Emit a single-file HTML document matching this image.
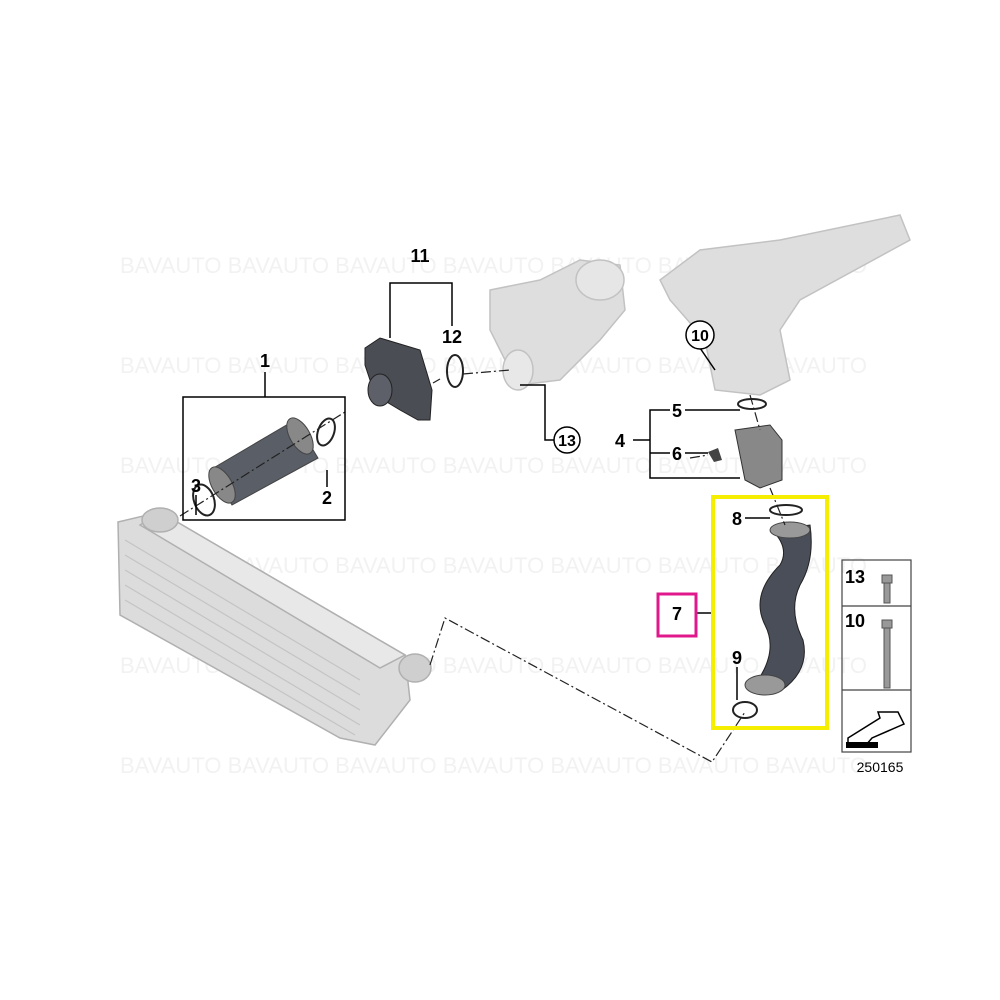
<!DOCTYPE html>
<html><head><style>
html,body{margin:0;padding:0;background:#fff;}
svg{display:block}
text{font-family:"Liberation Sans",sans-serif;}
.b{font-weight:bold;}
</style></head><body>
<svg width="1000" height="1000" viewBox="0 0 1000 1000" xmlns="http://www.w3.org/2000/svg">
<rect width="1000" height="1000" fill="#fff"/>
<!-- watermarks -->
<g fill="#f2f2f2" font-size="22" font-family="Liberation Sans">
<text x="120" y="273">BAVAUTO BAVAUTO BAVAUTO BAVAUTO BAVAUTO BAVAUTO BAVAUTO</text>
<text x="120" y="373">BAVAUTO BAVAUTO BAVAUTO BAVAUTO BAVAUTO BAVAUTO BAVAUTO</text>
<text x="120" y="473">BAVAUTO BAVAUTO BAVAUTO BAVAUTO BAVAUTO BAVAUTO BAVAUTO</text>
<text x="120" y="573">BAVAUTO BAVAUTO BAVAUTO BAVAUTO BAVAUTO BAVAUTO BAVAUTO</text>
<text x="120" y="673">BAVAUTO BAVAUTO BAVAUTO BAVAUTO BAVAUTO BAVAUTO BAVAUTO</text>
<text x="120" y="773">BAVAUTO BAVAUTO BAVAUTO BAVAUTO BAVAUTO BAVAUTO BAVAUTO</text>
</g>
<!-- intercooler -->
<g fill="#dcdcdc" stroke="#b0b0b0" stroke-width="1.5">
<polygon points="118,522 160,512 405,655 410,700 375,745 340,738 120,615"/>
<polygon points="140,525 160,512 405,655 380,668" fill="#e8e8e8"/>
<ellipse cx="160" cy="520" rx="18" ry="12" fill="#cfcfcf"/>
<ellipse cx="415" cy="668" rx="16" ry="14" fill="#cfcfcf"/>
</g>
<g stroke="#c4c4c4" stroke-width="1.2">
<line x1="125" y1="540" x2="360" y2="680"/><line x1="125" y1="555" x2="360" y2="695"/>
<line x1="125" y1="570" x2="360" y2="710"/><line x1="125" y1="585" x2="360" y2="725"/>
<line x1="125" y1="600" x2="355" y2="735"/>
</g>
<!-- turbo -->
<g fill="#dedede" stroke="#c2c2c2" stroke-width="1.5">
<path d="M490,290 L540,280 L580,260 L620,265 L625,310 L600,340 L560,380 L520,385 L505,360 L490,330Z"/>
<ellipse cx="600" cy="280" rx="24" ry="20" fill="#e6e6e6"/>
<ellipse cx="518" cy="370" rx="15" ry="20" fill="#e8e8e8"/>
</g>
<!-- intake manifold -->
<g fill="#dedede" stroke="#c2c2c2" stroke-width="1.5">
<path d="M660,280 L700,250 L780,240 L900,215 L910,240 L800,300 L780,330 L790,380 L760,395 L715,390 L705,340 L670,300Z"/>
</g>
<!-- hose 1 -->
<g stroke="#444" stroke-width="1">
<path d="M210,470 L295,420 L318,458 L232,505Z" fill="#5a5e66"/>
<ellipse cx="300" cy="436" rx="10" ry="20" transform="rotate(-30 300 436)" fill="#888"/>
<ellipse cx="222" cy="485" rx="10" ry="20" transform="rotate(-30 222 485)" fill="#888"/>
</g>
<!-- part 11 -->
<path d="M365,348 L380,338 L420,350 L432,390 L430,420 L418,420 L400,410 L375,395 L365,365Z" fill="#4a4d54" stroke="#222"/>
<ellipse cx="380" cy="390" rx="12" ry="16" fill="#5d6068" stroke="#222"/>
<!-- o-rings -->
<g fill="none" stroke="#222" stroke-width="2">
<ellipse cx="455" cy="371" rx="8" ry="16"/>
<ellipse cx="326" cy="432" rx="8" ry="14" transform="rotate(20 326 432)"/>
<ellipse cx="204" cy="500" rx="10" ry="16" transform="rotate(-20 204 500)"/>
<ellipse cx="752" cy="404" rx="14" ry="5"/>
<ellipse cx="786" cy="510" rx="16" ry="5"/>
<ellipse cx="745" cy="710" rx="12" ry="8"/>
</g>
<!-- part 4 -->
<path d="M735,430 L770,425 L782,440 L782,480 L760,488 L745,480 Z" fill="#888" stroke="#333"/>
<path d="M708,452 L718,448 L722,460 L714,462Z" fill="#444"/>
<!-- hose 7 -->
<path d="M772,530 L810,525 Q815,560 800,585 Q788,610 803,640 Q810,670 782,690 L758,680 Q778,650 765,625 Q750,595 780,565 Q790,548 772,530Z" fill="#4a4e58" stroke="#222"/>
<ellipse cx="790" cy="530" rx="20" ry="8" fill="#999" stroke="#444"/>
<ellipse cx="765" cy="685" rx="20" ry="10" fill="#999" stroke="#444"/>
<!-- dash lines -->
<g fill="none" stroke="#222" stroke-width="1.2" stroke-dasharray="10,3,2,3">
<path d="M180,516 L345,412"/>
<path d="M433,383 L440,379"/>
<path d="M463,374 L510,370"/>
<path d="M430,665 L445,618 L712,762 L745,712"/>
<path d="M750,395 L760,430"/><path d="M770,488 L785,525"/>
<path d="M690,458 L708,455"/>
</g>
<!-- leaders -->
<g fill="none" stroke="#000" stroke-width="1.5">
<path d="M390,338 V283 H452 V326"/>
<path d="M265,372 V397"/><rect x="183" y="397" width="162" height="123"/>
<path d="M196,495 V515"/><path d="M327,470 V487"/>
<path d="M520,385 H545 V440 H554"/>
<path d="M700,348 L715,370"/>
<path d="M633,440 H650 V410 H670 M650,440 V478 H740 M650,453 H670 M685,410 H740 M685,453 H708"/>
<path d="M745,518 H770"/><path d="M696,613 H713"/>
<path d="M737,667 V700"/>
</g>
<rect x="713" y="497" width="114" height="231" fill="none" stroke="#f5ee00" stroke-width="4"/>
<rect x="658" y="594" width="38" height="42" fill="none" stroke="#e0188c" stroke-width="3"/>
<g fill="#fff" stroke="#000" stroke-width="1.5">
<circle cx="567" cy="440" r="13"/><circle cx="700" cy="335" r="14"/>
</g>
<g class="b" font-size="18" text-anchor="middle" fill="#000">
<text x="420" y="262">11</text><text x="452" y="343">12</text><text x="265" y="367">1</text>
<text x="196" y="492">3</text><text x="327" y="504">2</text>
<text x="567" y="446" font-size="16">13</text><text x="700" y="341" font-size="16">10</text>
<text x="677" y="417">5</text><text x="620" y="447">4</text><text x="677" y="460">6</text>
<text x="737" y="525">8</text><text x="677" y="620">7</text><text x="737" y="664">9</text>
</g>
<!-- side panel -->
<g fill="none" stroke="#444" stroke-width="1.2">
<rect x="842" y="560" width="69" height="192"/>
<line x1="842" y1="606" x2="911" y2="606"/><line x1="842" y1="690" x2="911" y2="690"/>
</g>
<text class="b" x="845" y="583" font-size="18">13</text><text class="b" x="845" y="627" font-size="18">10</text>
<g fill="#999" stroke="#555">
<rect x="882" y="575" width="10" height="8"/><rect x="884" y="583" width="6" height="20"/>
<rect x="882" y="620" width="10" height="8"/><rect x="884" y="628" width="6" height="60"/>
</g>
<path d="M848,738 L880,718 L878,712 L898,712 L904,724 L872,738 L866,745 L848,745Z" fill="#fff" stroke="#000" stroke-width="1.5"/>
<rect x="846" y="742" width="32" height="6" fill="#000"/>
<text x="880" y="772" font-size="14" text-anchor="middle">250165</text>
</svg>
</body></html>
